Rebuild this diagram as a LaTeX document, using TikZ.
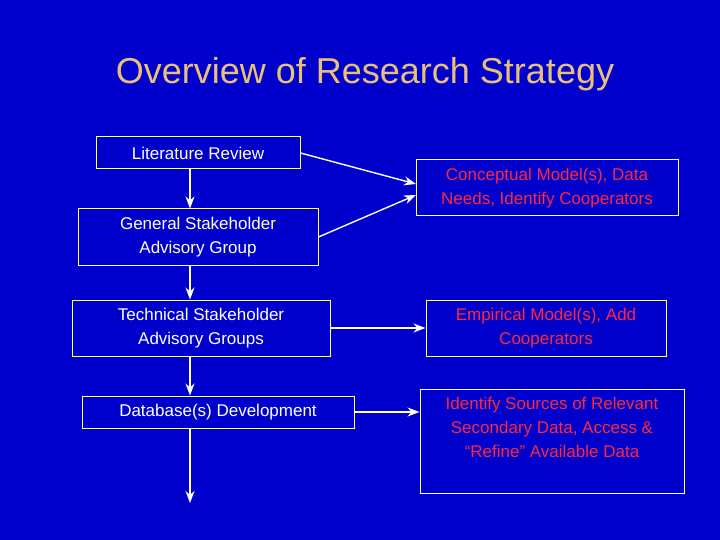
\documentclass[tikz,border=0pt]{standalone}
\usepackage{fontspec}
\setmainfont{Liberation Sans}
\usetikzlibrary{arrows.meta}
\definecolor{bg}{RGB}{0,0,204}
\definecolor{ttl}{RGB}{234,192,120}
\definecolor{rtx}{RGB}{255,40,60}
\begin{document}
\begin{tikzpicture}[x=1pt,y=-1pt,
  box/.style={draw=white,line width=1pt,inner sep=0pt,align=center,font=\fontsize{17}{24}\selectfont},
  lbox/.style={box,text=white},
  rbox/.style={box,text=rtx},
  arr/.style={draw=white,line width=1.4pt,-{Stealth[length=12pt,width=9pt]}}]
\fill[bg] (0,0) rectangle (720,540);
\useasboundingbox (0,0) rectangle (720,540);
\node[text=ttl,font=\fontsize{36}{40}\selectfont] (title) at (365,74) {Overview of Research Strategy};
\node[lbox,minimum width=204,minimum height=32] (lit) at (198,153) {Literature Review};
\node[lbox,minimum width=240,minimum height=56] (gen) at (198,237) {General Stakeholder\\Advisory Group};
\node[lbox,minimum width=258,minimum height=56] (tech) at (201,328) {Technical Stakeholder\\Advisory Groups};
\node[lbox,minimum width=272,minimum height=32] (db) at (218,412) {Database(s) Development};
\node[rbox,minimum width=262,minimum height=56] (conc) at (547,188) {Conceptual Model(s), Data\\Needs, Identify Cooperators};
\node[rbox,minimum width=240,minimum height=56] (emp) at (546,328) {Empirical Model(s), Add\\Cooperators};
\node[draw=white,line width=1pt,minimum width=264,minimum height=104,inner sep=0pt] (ids) at (552,441) {};
\node[text=rtx,align=center,anchor=north,font=\fontsize{17}{24}\selectfont,inner sep=0pt] (idt) at (552,397) {Identify Sources of Relevant\\Secondary Data, Access \&\\“Refine” Available Data};
\coordinate (end) at (190,503);
\draw[arr] (lit.east) -- (416,184);
\draw[arr] (gen.east) -- (416,195);
\draw[arr] (tech.east) -- (emp.west);
\draw[arr] (db.east) -- (ids.west |- db.east);
\draw[arr] (lit.south -| 190,0) -- (gen.north -| 190,0);
\draw[arr] (gen.south -| 190,0) -- (tech.north -| 190,0);
\draw[arr] (tech.south -| 190,0) -- (db.north -| 190,0);
\draw[arr] (db.south -| 190,0) -- (end);
\end{tikzpicture}
\end{document}
